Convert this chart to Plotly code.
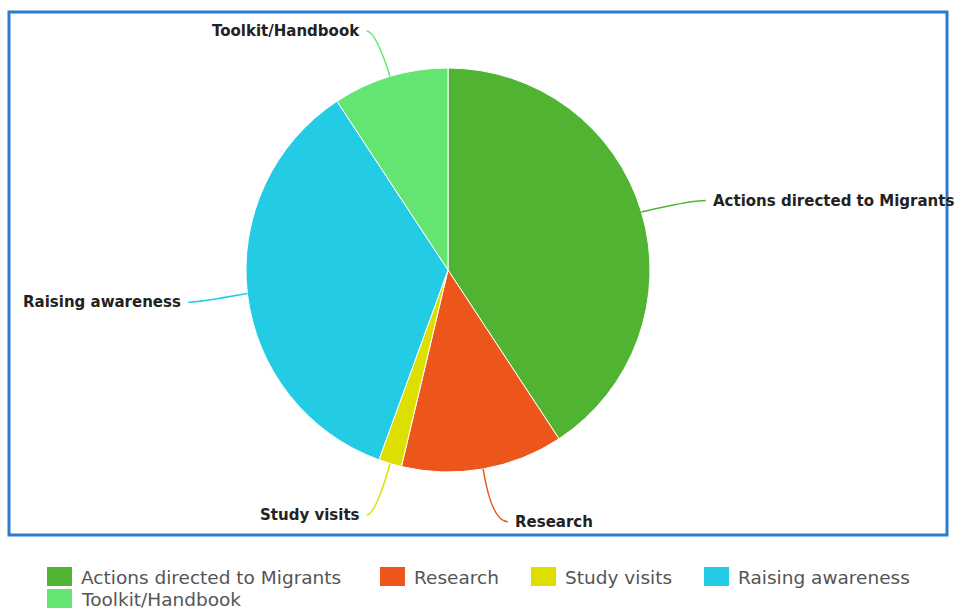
import math
import plotly.graph_objects as go

# ---- data ----
categories = ["Actions directed to Migrants", "Research", "Study visits",
              "Raising awareness", "Toolkit/Handbook"]
values = [22, 7, 1, 19, 5]
colors = ["#50B432", "#ED561B", "#DDDF00", "#24CBE5", "#64E572"]

# ---- layout constants (pixels) ----
W, H = 957, 609
CX, CY, R = 448, 270, 202          # pie centre / radius in px
LEGEND_POS = [(47, 577), (380, 577), (531, 577), (704, 577), (47, 599)]


def px(x):
    return x / W


def py(y):
    return 1 - y / H


fig = go.Figure(go.Pie(
    labels=categories,
    values=values,
    marker=dict(colors=colors, line=dict(color="white", width=1)),
    sort=False,
    direction="clockwise",
    rotation=0,
    textinfo="none",
    hoverinfo="label+value+percent",
    domain=dict(x=[px(CX - R), px(CX + R)], y=[py(CY + R), py(CY - R)]),
    showlegend=False,
))

shapes = []
annotations = []

# data labels with curved connectors, positions derived from slice angles
total = sum(values)
cum = 0
for lab, v, col in zip(categories, values, colors):
    mid = (cum + v / 2) / total * 2 * math.pi
    cum += v
    s, c = math.sin(mid), math.cos(mid)
    x0, y0 = CX + R * s, CY - R * c
    x1, y1 = CX + 1.25 * R * s, CY - 1.25 * R * c + 3
    side = 1 if s >= 0 else -1
    x2, y2 = x1 + side * (16 if side > 0 else 9), y1
    shapes.append(dict(
        type="path", xref="paper", yref="paper",
        path=f"M {px(x0)} {py(y0)} Q {px(x1)} {py(y1)} {px(x2)} {py(y2)}",
        line=dict(color=col, width=1.5),
    ))
    annotations.append(dict(
        xref="paper", yref="paper", x=px(x2 + side * 5), y=py(y2),
        xanchor="left" if side > 0 else "right", yanchor="middle",
        text=lab, showarrow=False,
        font=dict(family="DejaVu Sans", size=15, color="#222222", weight="bold"),
    ))

# frame
shapes.append(dict(type="rect", xref="paper", yref="paper",
                   x0=px(9), x1=px(947), y0=py(535), y1=py(12),
                   line=dict(color="#2B7BD3", width=3)))

# legend (custom, to reproduce large swatches)
for (lx, ly), lab, col in zip(LEGEND_POS, categories, colors):
    shapes.append(dict(type="rect", xref="paper", yref="paper",
                       x0=px(lx), x1=px(lx + 25), y0=py(ly + 9), y1=py(ly - 10),
                       line=dict(width=0), fillcolor=col))
    annotations.append(dict(
        xref="paper", yref="paper", x=px(lx + 32), y=py(ly),
        xanchor="left", yanchor="middle", text=lab, showarrow=False,
        font=dict(family="DejaVu Sans", size=18.5, color="#555555"),
    ))

fig.update_layout(
    width=W, height=H,
    margin=dict(l=0, r=0, t=0, b=0),
    paper_bgcolor="white",
    plot_bgcolor="white",
    shapes=shapes,
    annotations=annotations,
    showlegend=False,
)

fig.write_html("out.html", config={"displayModeBar": False},
               post_script="document.body.style.margin='0';document.body.style.overflow='hidden';")
